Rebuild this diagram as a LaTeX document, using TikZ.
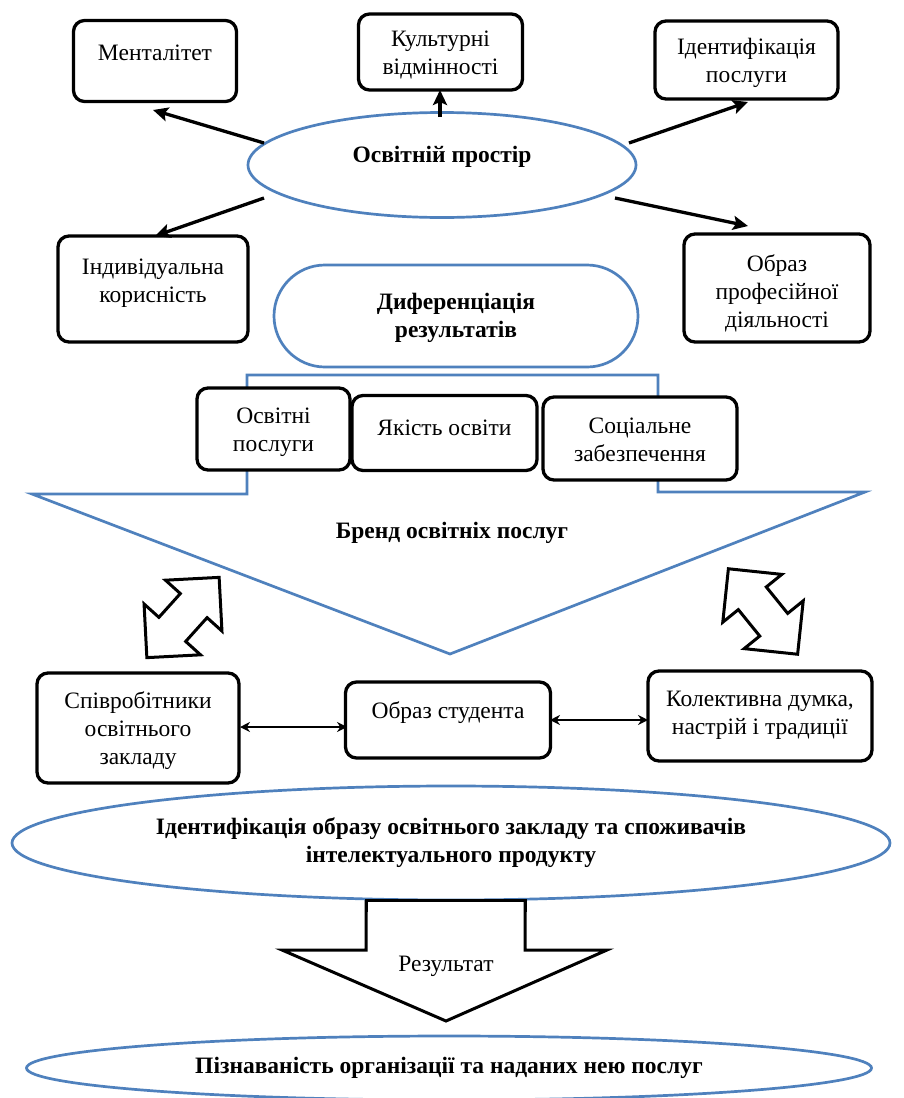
\documentclass[tikz,border=0pt]{standalone}
\usepackage{fontspec}
\setmainfont{Liberation Serif}
\usetikzlibrary{arrows.meta,shapes.geometric}
\definecolor{bl}{RGB}{79,129,189}
\tikzset{
  x=1pt, y=-1pt,
  box/.style={draw=black, line width=3.3pt, rounded corners=11pt, fill=white, inner sep=0pt},
  txt/.style={font=\fontsize{23.5}{28}\selectfont, align=center, inner sep=0pt},
  btxt/.style={font=\bfseries\fontsize{23.5}{28}\selectfont, align=center, inner sep=0pt},
  oval/.style={draw=bl, line width=2.7pt, ellipse, fill=white, inner sep=0pt},
  conn/.style={line width=3.3pt, -{Stealth[length=15pt,width=14pt,inset=3pt]}},
  dconn/.style={line width=2.6pt, {Stealth[length=10pt,width=10pt]}-{Stealth[length=10pt,width=10pt]}},
  blockb/.style={draw=bl, line width=2.7pt, fill=white, line join=miter},
  blockk/.style={draw=black, line width=3pt, fill=white, line join=miter},
  dbl/.style={draw=black, line width=3pt, fill=white, line join=miter},
}
\begin{document}
\begin{tikzpicture}
\useasboundingbox (0,0) rectangle (903,1098);
\fill[white] (0,0) rectangle (903,1098);

% big blue block arrow
\draw[blockb] (247,375) -- (658,375) -- (658,492) -- (865,492) -- (450,654) -- (32,494) -- (247,494) -- cycle;
\node[btxt] (brand) at (452,533) {Бренд освітніх послуг};

% top oval and boxes
\node[oval, minimum width=388pt, minimum height=105pt] (space) at (442,165) {};
\node[btxt] (spaceT) at (442,157) {Освітній простір};

\node[box, minimum width=163pt, minimum height=81pt] (ment) at (155,61) {};
\node[txt] (mentT) at (155,53) {Менталітет};

\node[box, minimum width=164pt, minimum height=76pt] (kult) at (440.5,52) {};
\node[txt] (kultT) at (440.5,55) {Культурні\\відмінності};

\node[box, minimum width=183pt, minimum height=78pt] (ident) at (746.5,60) {};
\node[txt] (identT) at (746.5,63) {Ідентифікація\\послуги};

\node[box, minimum width=190pt, minimum height=106pt] (indiv) at (153,289) {};
\node[txt] (indivT) at (153,283) {Індивідуальна\\корисність};

\node[box, minimum width=186pt, minimum height=108pt] (obraz) at (777,288) {};
\node[txt] (obrazT) at (777,293) {Образ\\професійної\\діяльності};

\coordinate (a1s) at (264,143); \coordinate (a1e) at (153,110);
\coordinate (a2s) at (440,117); \coordinate (a2e) at (440,90);
\coordinate (a3s) at (629,143); \coordinate (a3e) at (748,102);
\coordinate (a4s) at (264,198); \coordinate (a4e) at (155,236);
\coordinate (a5s) at (615,198); \coordinate (a5e) at (748,226);
\draw[conn] (a1s) -- (a1e);
\draw[conn] (a2s) -- (a2e);
\draw[conn] (a3s) -- (a3e);
\draw[conn] (a4s) -- (a4e);
\draw[conn] (a5s) -- (a5e);

% differentiation stadium
\node[draw=bl, line width=2.7pt, fill=white, rounded corners=51pt, minimum width=364pt, minimum height=102pt, inner sep=0pt] (diff) at (456,316) {};
\node[btxt] (diffT) at (456,318) {Диференціація\\результатів};

% three boxes
\node[box, minimum width=153pt, minimum height=82pt] (osv) at (273.5,429) {};
\node[txt] (osvT) at (273.5,432) {Освітні\\послуги};
\node[box, minimum width=185pt, minimum height=75pt] (yak) at (444.5,433) {};
\node[txt] (yakT) at (444.5,428) {Якість освіти};
\node[box, minimum width=194pt, minimum height=83pt] (soc) at (640,438.5) {};
\node[txt] (socT) at (640,440) {Соціальне\\забезпечення};

% diagonal double block arrows
\draw[dbl, shift={(183,617.5)}, rotate=48]
  (54,0) -- (16,38) -- (16,18) -- (-16,18) -- (-16,38) -- (-54,0) -- (-16,-38) -- (-16,-18) -- (16,-18) -- (16,-38) -- cycle;
\draw[dbl, shift={(763,611.5)}, rotate=-51]
  (55,0) -- (17,38) -- (17,18) -- (-17,18) -- (-17,38) -- (-55,0) -- (-17,-38) -- (-17,-18) -- (17,-18) -- (17,-38) -- cycle;

% bottom boxes
\node[box, minimum width=202pt, minimum height=110pt] (spiv) at (138,728) {};
\node[txt] (spivT) at (138,731) {Співробітники\\освітнього\\закладу};
\node[box, minimum width=205pt, minimum height=76pt] (stud) at (448,720) {};
\node[txt] (studT) at (448,713) {Образ студента};
\node[box, minimum width=224pt, minimum height=90pt] (kol) at (760,716) {};
\node[txt] (kolT) at (760,715) {Колективна думка,\\настрій і традиції};
\coordinate (d1s) at (240,727); \coordinate (d1e) at (347,727);
\coordinate (d2s) at (550,720); \coordinate (d2e) at (648,720);
\draw[dconn] (d1s) -- (d1e);
\draw[dconn] (d2s) -- (d2e);

% result block arrow
\draw[blockk] (366,890) -- (525,890) -- (525,950) -- (607,950) -- (446,1021) -- (282,950) -- (366,950) -- cycle;
\node[txt] (resT) at (446,966) {Результат};

% identification oval
\node[oval, minimum width=878pt, minimum height=114pt] (idn) at (451,843) {};
\node[btxt] (idnT) at (451,843) {Ідентифікація образу освітнього закладу та споживачів\\інтелектуального продукту};
\draw[black, line width=3pt] (366,899) -- (366,912) (525,899) -- (525,912);
\draw[black, line width=3pt] (366,900) -- (525,900);

% final oval
\node[oval, minimum width=845pt, minimum height=64pt] (final) at (449,1068) {};
\node[btxt] (finalT) at (449,1068) {Пізнаваність організації та наданих нею послуг};
\end{tikzpicture}
\end{document}
